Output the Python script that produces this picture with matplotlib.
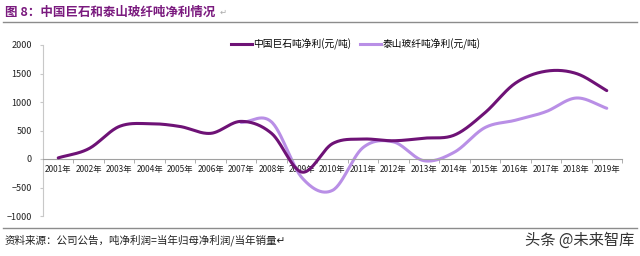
import numpy as np
import matplotlib.pyplot as plt
from matplotlib.lines import Line2D

plt.rcParams['font.family'] = ['Noto Sans CJK SC', 'DejaVu Sans']

# ======================
# 数据
# ======================
years = [f'{y}年' for y in range(2001, 2020)]
jushi = [20, 180, 570, 620, 570, 450, 660, 450, -230, 270, 350, 320, 365, 420,
         810, 1330, 1540, 1500, 1200]
# 泰山玻纤从2007年开始
taishan_start = 6
taishan = [640, 650, -330, -550, 200, 300, -30, 120, 550, 680, 830, 1070, 890]

c_dark = '#6E1276'
c_light = '#B98FE6'


def smooth(x, y, n=30):
    # Catmull-Rom 平滑，类似Excel的平滑线
    x = np.asarray(x, float)
    y = np.asarray(y, float)
    px = np.concatenate([[2 * x[0] - x[1]], x, [2 * x[-1] - x[-2]]])
    py = np.concatenate([[2 * y[0] - y[1]], y, [2 * y[-1] - y[-2]]])
    xs, ys = [], []
    for i in range(1, len(px) - 2):
        t = np.linspace(0, 1, n, endpoint=False)
        for p, out in ((px, xs), (py, ys)):
            p0, p1, p2, p3 = p[i - 1], p[i], p[i + 1], p[i + 2]
            out.append(0.5 * (2 * p1 + (-p0 + p2) * t
                              + (2 * p0 - 5 * p1 + 4 * p2 - p3) * t ** 2
                              + (-p0 + 3 * p1 - 3 * p2 + p3) * t ** 3))
    xs.append([x[-1]])
    ys.append([y[-1]])
    return np.concatenate(xs), np.concatenate(ys)


fig = plt.figure(figsize=(6.4, 2.56), dpi=100)
ax = fig.add_axes([43 / 640, 1 - 216 / 256, 579 / 640, 171 / 256])

idx = np.arange(len(years))
sx, sy = smooth(idx, jushi)
ax.plot(sx, sy, color=c_dark, lw=2.2, solid_capstyle='round', zorder=3)
tx, ty = smooth(idx[taishan_start:], taishan)
ax.plot(tx, ty, color=c_light, lw=2.2, solid_capstyle='round', zorder=2)

ax.set_xlim(-0.5, len(years) - 0.5)
ax.set_ylim(-1000, 2000)
ax.set_yticks(range(-1000, 2001, 500))
ax.set_xticks(idx)
ax.set_xticklabels(years)
ax.set_xticks(np.arange(-0.5, len(years), 1), minor=True)

for s in ['top', 'right']:
    ax.spines[s].set_visible(False)
ax.spines['bottom'].set_position(('data', 0))
ax.spines['bottom'].set_color('#A0A0A0')
ax.spines['left'].set_color('#C8C8C8')
ax.tick_params(axis='x', which='major', length=0, pad=4, labelsize=6, colors='#222222')
ax.tick_params(axis='x', which='minor', length=3, color='#A0A0A0', direction='out')
ax.tick_params(axis='y', length=2, color='#C8C8C8', labelsize=6.5, colors='#222222', pad=6)

# 图例
handles = [Line2D([], [], color=c_dark, lw=2.2), Line2D([], [], color=c_light, lw=2.2)]
fig.legend(handles, ['中国巨石吨净利(元/吨)', '泰山玻纤吨净利(元/吨)'],
           loc='center left', bbox_to_anchor=(222 / 640, 1 - 44 / 256), ncol=2,
           frameon=False, fontsize=7, handlelength=2.2, handletextpad=0.1,
           columnspacing=0.9)

# 标题、分隔线、来源
fig.text(5 / 640, 1 - 12 / 256, '图 8：中国巨石和泰山玻纤吨净利情况', color='#7A1A7E',
         fontsize=9, fontweight='bold', va='center', ha='left')
fig.text(220 / 640, 1 - 12 / 256, '↵', color='#AAAAAA', fontsize=6, va='center',
         family=['DejaVu Sans'])
fig.add_artist(Line2D([3 / 640, 637 / 640], [1 - 22 / 256] * 2, color='#8C8C8C', lw=1))
fig.add_artist(Line2D([3 / 640, 637 / 640], [1 - 228 / 256] * 2, color='#8C8C8C', lw=1))
fig.text(5 / 640, 1 - 240 / 256, '资料来源：公司公告，吨净利润=当年归母净利润/当年销量↵',
         fontsize=7.6, color='#222222', va='center', ha='left')
fig.text(634 / 640, 1 - 240 / 256, '头条 @未来智库', fontsize=11, color='#333333',
         va='center', ha='right')

plt.savefig('out.png', dpi=100)
